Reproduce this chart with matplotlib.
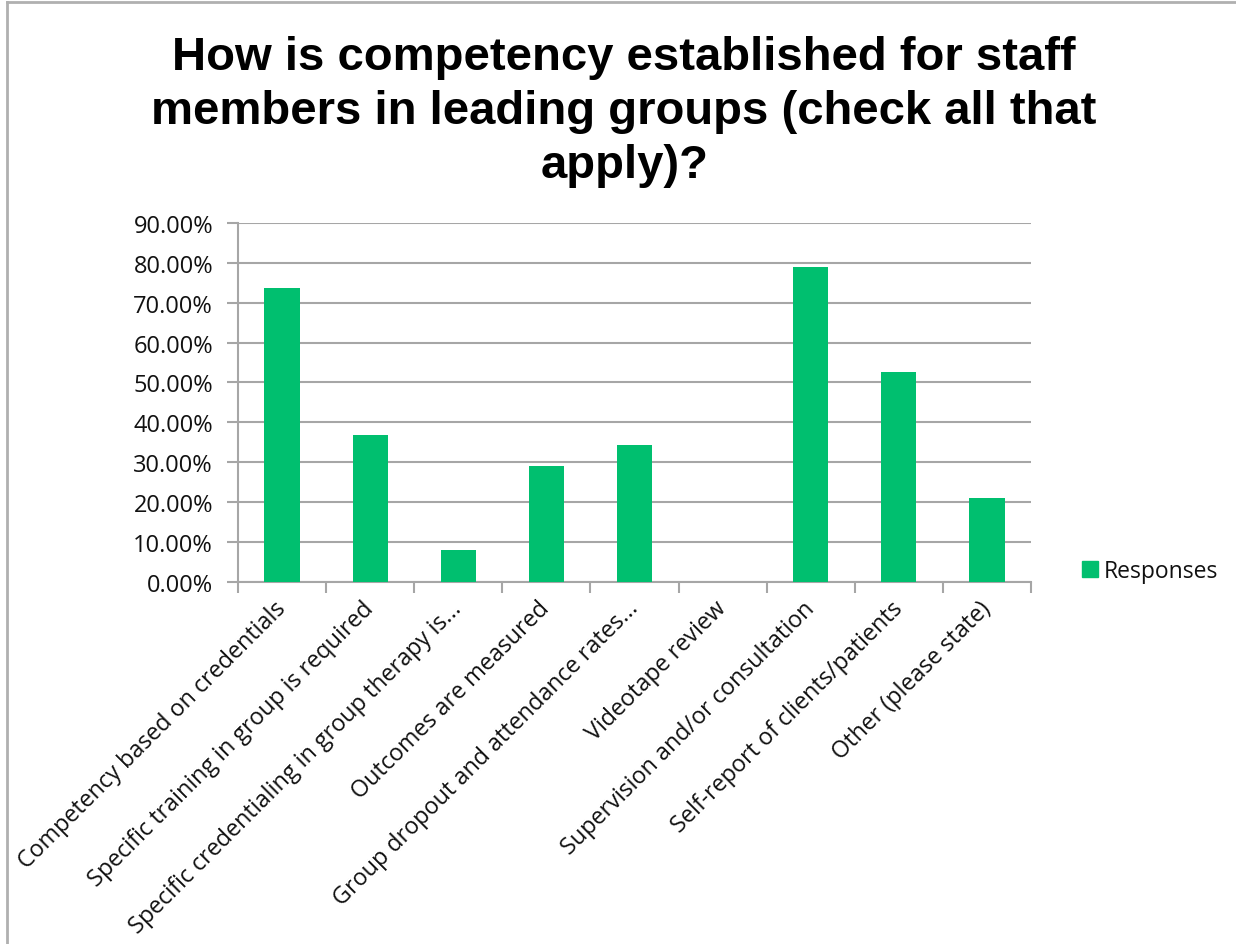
import numpy as np
import matplotlib.pyplot as plt
from matplotlib.lines import Line2D
from matplotlib.ticker import FuncFormatter, MultipleLocator

categories = ['Competency based on credentials',
              'Specific training in group is required',
              'Specific credentialing in group therapy is...',
              'Outcomes are measured',
              'Group dropout and attendance rates...',
              'Videotape review',
              'Supervision and/or consultation',
              'Self-report of clients/patients',
              'Other (please state)']
responses = [0.7368, 0.3684, 0.0789, 0.2895, 0.3421, 0.0, 0.7895, 0.5263, 0.2105]
title = 'How is competency established for staff\nmembers in leading groups (check all that\napply)?'

green = '#00BF6F'
grid_grey = '#A6A6A6'
text_col = '#111111'

plt.rcParams['font.family'] = ['Open Sans', 'DejaVu Sans']

fig = plt.figure(figsize=(12.36, 9.45), dpi=100)
ax = fig.add_axes([0.19256, 0.38339, 0.64158, 0.37957])

x = np.arange(len(categories))
ax.bar(x, responses, width=0.4, color=green, zorder=3, label='Responses')

ax.set_xlim(-0.5, len(categories) - 0.5)
ax.set_ylim(0, 0.9)
ax.yaxis.set_major_locator(MultipleLocator(0.1))
ax.yaxis.set_major_formatter(FuncFormatter(lambda v, p: '%.2f%%' % (v * 100)))
ax.grid(axis='y', color=grid_grey, linewidth=1.5, zorder=0)

for s in ['top', 'right']:
    ax.spines[s].set_visible(False)
for s in ['left', 'bottom']:
    ax.spines[s].set_color(grid_grey)
    ax.spines[s].set_linewidth(1.5)

ax.tick_params(axis='y', length=8, width=1.5, color=grid_grey, pad=10,
               labelsize=17, labelcolor=text_col)

# category boundaries carry the tick marks, labels sit at the bar centres
ax.set_xticks(np.arange(-0.5, len(categories)), minor=True)
ax.tick_params(axis='x', which='minor', length=8, width=1.5, color=grid_grey)
ax.set_xticks(x)
ax.set_xticklabels(categories, rotation=45, ha='right', va='center',
                   rotation_mode='anchor', fontsize=16.8, color=text_col)
ax.tick_params(axis='x', which='major', length=0, pad=16.5)

fig.text(0.505, 1 - 36 / 945, title, ha='center', va='top', fontsize=34,
         fontweight='bold', family='Liberation Sans', linespacing=1.3)

handle = Line2D([], [], marker='s', linestyle='none', markersize=11,
                markerfacecolor=green, markeredgecolor=green)
fig.legend([handle], ['Responses'], loc='center left',
           bbox_to_anchor=(1067 / 1236, 1 - 572 / 945), frameon=False,
           fontsize=16.5, handletextpad=0.1, borderpad=0, handlelength=1.0,
           labelcolor=text_col)

# outer frame edges
fig.add_artist(Line2D([7 / 1236, 7 / 1236], [0, 1 - 3 / 945],
                      transform=fig.transFigure, color='#B0B0B0', lw=2))
fig.add_artist(Line2D([7 / 1236, 1], [1 - 3 / 945, 1 - 3 / 945],
                      transform=fig.transFigure, color='#B0B0B0', lw=2))

fig.savefig('out.png', dpi=100)
